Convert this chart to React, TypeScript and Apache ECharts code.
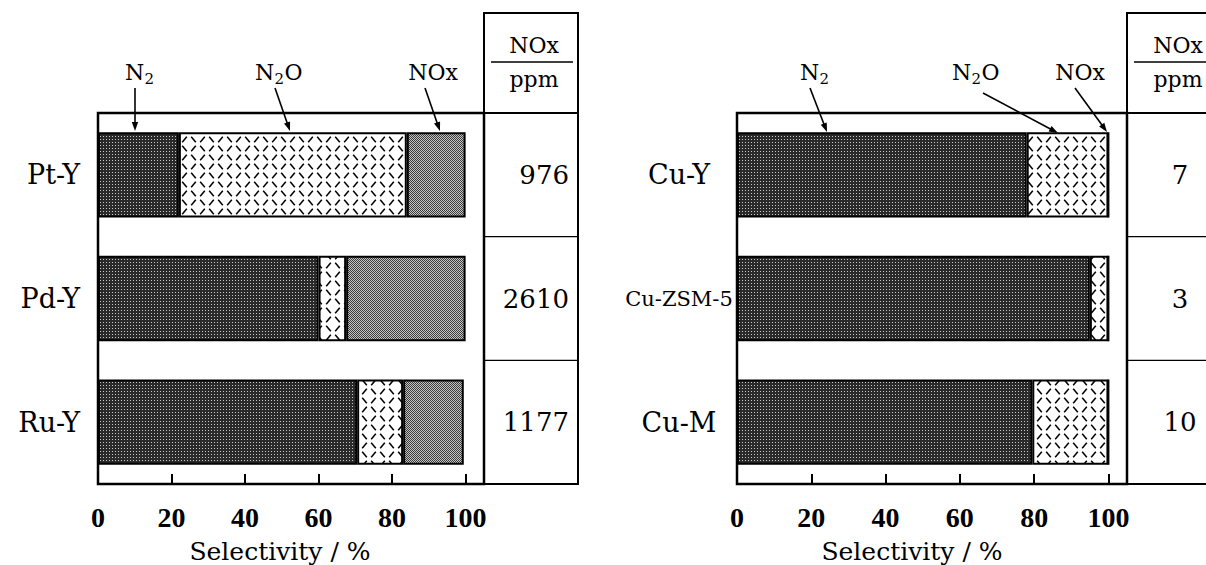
import React, { useEffect, useRef } from "react";
import * as echarts from "echarts";

// ---- data ----
const categoriesLeft = ["Pt-Y", "Pd-Y", "Ru-Y"];
const n2Left = [22, 60, 70.5];
const n2oLeft = [62, 7.5, 12.5];
const noxLeft = [16, 32.5, 16.5];
const ppmLeft = ["976", "2610", "1177"];

const categoriesRight = ["Cu-Y", "Cu-ZSM-5", "Cu-M"];
const n2Right = [78, 95, 79.5];
const n2oRight = [22, 5, 20.5];
const noxRight = [0, 0, 0];
const ppmRight = ["7", "3", "10"];

const xMin = 0;
const xMax = 105;
const xInterval = 20;
const axisName = "Selectivity / %";
const tableHeaderTop = "NOx";
const tableHeaderBottom = "ppm";

const SERIF = "DejaVu Serif";
const TICKFONT = "Liberation Serif";

function makeCanvas(w: number, h: number, draw: (ctx: CanvasRenderingContext2D) => void) {
  const c = document.createElement("canvas");
  c.width = w;
  c.height = h;
  const ctx = c.getContext("2d") as CanvasRenderingContext2D;
  draw(ctx);
  return c;
}

function arrow(x1: number, y1: number, x2: number, y2: number) {
  const dx = x2 - x1;
  const dy = y2 - y1;
  const len = Math.sqrt(dx * dx + dy * dy);
  const ux = dx / len;
  const uy = dy / len;
  const hl = 9;
  const hw = 3.2;
  const bx = x2 - ux * hl;
  const by = y2 - uy * hl;
  return [
    {
      type: "line",
      shape: { x1, y1, x2: bx + ux * 2, y2: by + uy * 2 },
      style: { stroke: "#000", lineWidth: 1.6 },
      silent: true,
    },
    {
      type: "polygon",
      shape: {
        points: [
          [x2, y2],
          [bx - uy * hw, by + ux * hw],
          [bx + uy * hw, by - ux * hw],
        ],
      },
      style: { fill: "#000" },
      silent: true,
    },
  ];
}

function txt(text: string, x: number, y: number, size: number, align = "center") {
  return {
    type: "text",
    x,
    y,
    silent: true,
    style: {
      text,
      fill: "#000",
      fontSize: size,
      fontFamily: SERIF,
      textAlign: align,
      align,
      textVerticalAlign: "middle",
      verticalAlign: "middle",
    },
  };
}

// chemical label with subscript: parts like ["N", "2", "O"]; "2" drawn smaller and lower
function chem(parts: string[], xLeft: number, y: number) {
  const els: any[] = [];
  let x = xLeft;
  const widths: Record<string, number> = { N: 19.5, O: 17.5, x: 12.5, "2": 10 };
  parts.forEach((p) => {
    const isSub = p === "2";
    const size = isSub ? 15 : 22;
    els.push(txt(p, x, isSub ? y + 7 : y, size, "left"));
    let w = 0;
    for (const ch of p) w += widths[ch] || 12;
    x += w;
  });
  return els;
}

export default function App() {
  const ref = useRef<HTMLDivElement>(null);

  useEffect(() => {
    if (!ref.current) return;
    const chart = echarts.init(ref.current, null, { renderer: "svg" });

    // patterns
    const n2Canvas = makeCanvas(3, 3, (ctx) => {
      ctx.fillStyle = "#2a2a2a";
      ctx.fillRect(0, 0, 3, 3);
      ctx.fillStyle = "#c8c8c8";
      ctx.fillRect(1, 1, 1, 1);
    });
    const noxCanvas = makeCanvas(2, 2, (ctx) => {
      ctx.fillStyle = "#c4c4c4";
      ctx.fillRect(0, 0, 2, 2);
      ctx.fillStyle = "#3c3c3c";
      ctx.fillRect(0, 0, 1, 1);
      ctx.fillRect(1, 1, 1, 1);
    });
    const n2oCanvas = makeCanvas(18, 18, (ctx) => {
      ctx.fillStyle = "#ffffff";
      ctx.fillRect(0, 0, 18, 18);
      ctx.strokeStyle = "#000";
      ctx.lineWidth = 1.5;
      const dash = (cx: number, cy: number, dir: number) => {
        ctx.beginPath();
        ctx.moveTo(cx - 2.3 * dir, cy - 2.8);
        ctx.lineTo(cx + 2.3 * dir, cy + 2.8);
        ctx.stroke();
      };
      dash(4.5, 4.5, 1);
      dash(13.5, 4.5, -1);
      dash(4.5, 13.5, -1);
      dash(13.5, 13.5, 1);
    });
    const pat = (c: HTMLCanvasElement) => ({
      image: c,
      repeat: "repeat",
      imageWidth: c.width,
      imageHeight: c.height,
    });
    const n2Fill = pat(n2Canvas);
    const noxFill = pat(noxCanvas);
    const n2oFill = pat(n2oCanvas);

    const gridTop = 113;
    const gridHeight = 371;
    const gridL = { left: 98, top: gridTop, width: 386, height: gridHeight };
    const gridR = { left: 737, top: gridTop, width: 390, height: gridHeight };
    const band = gridHeight / categoriesLeft.length;

    const xAxisCommon = (gridIndex: number, namePadRight: number) => ({
      type: "value",
      gridIndex,
      min: xMin,
      max: xMax,
      interval: xInterval,
      axisLine: { show: false },
      splitLine: { show: false },
      axisTick: { show: true, inside: true, length: 10, lineStyle: { color: "#000", width: 2 } },
      axisLabel: {
        showMaxLabel: false,
        margin: 19,
        color: "#000",
        fontFamily: TICKFONT,
        fontWeight: "bold",
        fontSize: 28,
      },
      name: axisName,
      nameLocation: "middle",
      nameGap: 55,
      nameTextStyle: {
        color: "#000",
        fontFamily: "DejaVu Serif, serif",
        fontWeight: "normal",
        fontStyle: "normal",
        fontSize: 25,
        lineHeight: 25,
        padding: [0, namePadRight, 0, 0],
      },
    });

    const catAxis = (gridIndex: number, data: any[], align: string, margin: number) => ({
      type: "category",
      gridIndex,
      data,
      inverse: true,
      axisLine: { show: false },
      axisTick: { show: false },
      splitLine: { show: false },
      axisLabel: {
        color: "#000",
        fontFamily: SERIF,
        fontSize: 27,
        align,
        margin,
      },
    });

    const ppmAxis = (gridIndex: number, data: string[], align: string, margin: number) => ({
      type: "category",
      gridIndex,
      position: "right",
      data,
      inverse: true,
      axisLine: { show: false },
      axisTick: { show: false },
      splitLine: { show: false },
      axisLabel: {
        color: "#000",
        fontFamily: SERIF,
        fontSize: 26,
        align,
        margin,
      },
    });

    const barSeries = (
      name: string,
      data: number[],
      fill: any,
      stack: string,
      axisIdx: number,
      yIdx: number
    ) => ({
      type: "bar",
      name,
      data,
      stack,
      xAxisIndex: axisIdx,
      yAxisIndex: yIdx,
      barWidth: "69%",
      itemStyle: { color: fill, borderColor: "#000", borderWidth: 2 },
      emphasis: { disabled: true },
      silent: true,
    });

    const rightCats = categoriesRight.map((c) =>
      c.length > 5
        ? { value: c, textStyle: { fontSize: 21, fontFamily: SERIF, color: "#000", align: "center" } }
        : c
    );

    // table graphics
    const tableL = { x: 484, right: 578, top: 13 };
    const tableR = { x: 1127, right: 1260, top: 13 };
    const bottom = gridTop + gridHeight;
    const tableEls: any[] = [];
    [tableL, tableR].forEach((t, i) => {
      tableEls.push({
        type: "rect",
        shape: { x: t.x, y: t.top, width: t.right - t.x, height: bottom - t.top },
        style: { fill: "none", stroke: "#000", lineWidth: 2 },
        silent: true,
      });
      tableEls.push({
        type: "line",
        shape: { x1: t.x, y1: gridTop, x2: t.right, y2: gridTop },
        style: { stroke: "#000", lineWidth: 2.2 },
        silent: true,
      });
      for (let k = 1; k < categoriesLeft.length; k++) {
        const y = gridTop + band * k;
        tableEls.push({
          type: "line",
          shape: { x1: t.x, y1: y, x2: t.right, y2: y },
          style: { stroke: "#000", lineWidth: 1.4 },
          silent: true,
        });
      }
      const cx = i === 0 ? 534 : 1178;
      tableEls.push({
        type: "line",
        shape: { x1: t.x + 7, y1: 62, x2: i === 0 ? 573 : 1230, y2: 62 },
        style: { stroke: "#000", lineWidth: 1.5 },
        silent: true,
      });
      tableEls.push(txt(tableHeaderTop, cx, 45, 22));
      tableEls.push(txt(tableHeaderBottom, cx, 79, 22));
    });

    const annotations: any[] = [
      ...chem(["N", "2"], 125, 72),
      ...chem(["N", "2", "O"], 255, 72),
      txt("NOx", 433, 72, 22),
      ...arrow(135, 88, 135, 131),
      ...arrow(275, 88, 290, 131),
      ...arrow(425, 88, 440, 131),
      ...chem(["N", "2"], 800, 72),
      ...chem(["N", "2", "O"], 952, 72),
      txt("NOx", 1080, 72, 22),
      ...arrow(810, 88, 827, 132),
      ...arrow(983, 93, 1058, 133),
      ...arrow(1075, 88, 1107, 132),
    ];

    const gridCommon = {
      show: true,
      borderColor: "#000",
      borderWidth: 2.5,
      backgroundColor: "transparent",
      containLabel: false,
      outerBoundsMode: "none",
    };

    chart.setOption({
      animation: false,
      backgroundColor: "#fff",
      textStyle: { fontFamily: SERIF },
      grid: [
        { ...gridL, ...gridCommon },
        { ...gridR, ...gridCommon },
      ],
      xAxis: [xAxisCommon(0, 22), xAxisCommon(1, 40)],
      yAxis: [
        catAxis(0, categoriesLeft, "right", 18),
        ppmAxis(0, ppmLeft, "right", 85),
        catAxis(1, rightCats, "center", 58),
        ppmAxis(1, ppmRight, "center", 53),
      ],
      series: [
        barSeries("N2", n2Left, n2Fill, "L", 0, 0),
        barSeries("N2O", n2oLeft, n2oFill, "L", 0, 0),
        barSeries("NOx", noxLeft, noxFill, "L", 0, 0),
        barSeries("N2", n2Right, n2Fill, "R", 1, 2),
        barSeries("N2O", n2oRight, n2oFill, "R", 1, 2),
        barSeries("NOx", noxRight, noxFill, "R", 1, 2),
      ],
      graphic: [...tableEls, ...annotations],
    });

    return () => {
      chart.dispose();
    };
  }, []);

  return (
    <div
      ref={ref}
      style={{ position: "absolute", left: 0, top: 0, width: 1206, height: 565, background: "#fff" }}
    />
  );
}
